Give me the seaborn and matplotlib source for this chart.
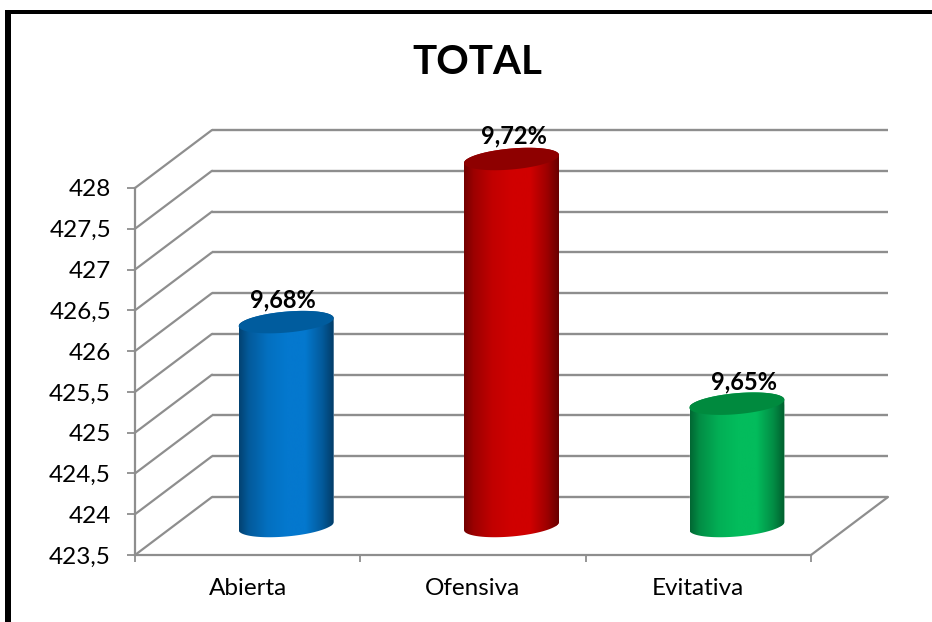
import matplotlib
matplotlib.use("Agg")
import matplotlib.pyplot as plt
import numpy as np
import pandas as pd
import seaborn as sns
from matplotlib.lines import Line2D
from matplotlib.patches import PathPatch, Rectangle
from matplotlib.path import Path
from matplotlib.transforms import Affine2D, IdentityTransform

# datos
categorias = ["Abierta", "Ofensiva", "Evitativa"]
valores = [426, 428, 425]
etiquetas = ["9,68%", "9,72%", "9,65%"]
colores = ["#0478CE", "#D00000", "#03BC5C"]
colores_tapa = ["#005C9E", "#8E0000", "#008A3E"]
y_ticks = [423.5, 424, 424.5, 425, 425.5, 426, 426.5, 427, 427.5, 428]
y_labels = ["423,5", "424", "424,5", "425", "425,5", "426", "426,5", "427", "427,5", "428"]

C_GRID = "#8E8E8E"
W, H = 932, 622
DX, DY = 77, 58  # profundidad de la caja 3D en pixeles

sns.set_theme(style="white")
plt.rcParams["font.family"] = ["Lato", "DejaVu Sans"]
plt.rcParams["text.color"] = "black"

fig = plt.figure(figsize=(W / 100, H / 100), dpi=100, facecolor="white")
ax = fig.add_axes([135 / W, (H - 555) / H, 676 / W, 367 / H])
ax.patch.set_alpha(0)

df = pd.DataFrame({"postura": categorias, "valor": valores})
sns.barplot(data=df, x="postura", y="valor", hue="postura", palette=colores,
            width=0.42, saturation=1, legend=False, ax=ax)
barras = list(ax.patches)

x0, x1 = -0.5, 2.5
ax.set_xlim(x0, x1)
ax.set_ylim(y_ticks[0], y_ticks[-1])

atras = ax.transData + Affine2D().translate(DX, DY)
medio = ax.transData + Affine2D().translate(DX / 2, DY / 2)
pix = IdentityTransform()

# paredes: lineas del fondo y de la pared lateral
for t in y_ticks:
    ax.plot([x0, x1], [t, t], transform=atras, color=C_GRID, lw=1.7, clip_on=False,
            zorder=1, solid_capstyle="butt")
    a = ax.transData.transform((x0, t))
    b = atras.transform((x0, t))
    ax.add_line(Line2D([a[0], b[0]], [a[1], b[1]], transform=pix, color=C_GRID, lw=1.6,
                       clip_on=False, zorder=1))
a = ax.transData.transform((x1, y_ticks[0]))
b = atras.transform((x1, y_ticks[0]))
ax.add_line(Line2D([a[0], b[0]], [a[1], b[1]], transform=pix, color=C_GRID, lw=1.6,
                   clip_on=False, zorder=1))


def elipse(cx, cy, t):
    # elipse inclinada: el lado derecho queda mas alto
    return np.column_stack([cx + 47.5 * np.cos(t), cy + 10.5 * np.sin(t) + 4 * np.cos(t)])


rampa = np.interp(np.linspace(0, 1, 256),
                  [0, 0.1, 0.3, 0.5, 0.7, 0.88, 1],
                  [0.55, 0.75, 0.93, 1.0, 1.0, 0.75, 0.5])

# cilindros a partir de las barras de seaborn
for i, bar in enumerate(barras):
    v = valores[i]
    bar.set_y(y_ticks[0])
    bar.set_height(v - y_ticks[0])
    bar.set_transform(medio)
    bar.set_zorder(3)

    cx, cy_top = medio.transform((bar.get_x() + bar.get_width() / 2, v))
    _, cy_base = medio.transform((0, y_ticks[0]))
    cuerpo = np.vstack([elipse(cx, cy_top, np.linspace(np.pi, 0, 60)),
                        elipse(cx, cy_base, np.linspace(0, -np.pi, 60))])
    silueta = Path(np.vstack([cuerpo, cuerpo[0]]), closed=True)

    bar.set_clip_box(fig.bbox)
    bar.set_clip_path(silueta, pix)

    rgb = np.array(matplotlib.colors.to_rgb(colores[i]))
    grad = (rampa[:, None] * rgb)[None, :, :]
    im = ax.imshow(grad, extent=(bar.get_x(), bar.get_x() + bar.get_width(), y_ticks[0] - 1, v + 1),
                   aspect="auto", interpolation="bilinear", transform=medio, zorder=4)
    im.set_clip_box(fig.bbox)
    im.set_clip_path(silueta, pix)

    tapa = elipse(cx, cy_top, np.linspace(0, 2 * np.pi, 120))
    ax.add_patch(PathPatch(Path(tapa, closed=True), transform=pix, facecolor=colores_tapa[i],
                           edgecolor="none", clip_on=False, zorder=5))

# etiquetas de datos
desplaz = [(-3, 22), (2, 23), (7, 22)]
for i in range(len(etiquetas)):
    ax.annotate(etiquetas[i], xy=(i, valores[i]), xycoords=medio, xytext=desplaz[i],
                textcoords="offset pixels", ha="center", va="center",
                fontsize=17, fontweight="bold", color="black", zorder=6)

ax.set_xlim(x0, x1)
ax.set_ylim(y_ticks[0], y_ticks[-1])

# ejes
ax.set_xlabel("")
ax.set_ylabel("")
ax.set_yticks(y_ticks)
ax.set_yticklabels(y_labels)
ax.set_xticks([-0.5, 0.5, 1.5, 2.5])
ax.set_xticklabels([])
ax.set_xticks([0, 1, 2], minor=True)
ax.set_xticklabels(categorias, minor=True)
ax.tick_params(axis="y", which="major", left=True, length=5.8, width=1.3, color=C_GRID,
               pad=11.5, labelsize=17.5, labelcolor="black")
ax.tick_params(axis="x", which="major", bottom=True, length=5, width=1.3, color=C_GRID)
ax.tick_params(axis="x", which="minor", bottom=False, length=0, pad=16.5, labelsize=17.5,
               labelcolor="black")
for lado in ["top", "right"]:
    ax.spines[lado].set_visible(False)
for lado in ["left", "bottom"]:
    ax.spines[lado].set_color(C_GRID)
    ax.spines[lado].set_linewidth(1.6)
    ax.spines[lado].set_zorder(2)

fig.suptitle("TOTAL", x=477 / W, y=1 - 63 / H, va="center", ha="center",
             fontsize=29, fontweight="bold")

# marco negro recortado del documento original
fig.add_artist(Rectangle((5 / W, 0), 5.5 / W, (H - 10) / H, transform=fig.transFigure,
                         facecolor="black", edgecolor="none"))
fig.add_artist(Rectangle((5 / W, (H - 13.5) / H), (W - 5) / W, 3.5 / H, transform=fig.transFigure,
                         facecolor="black", edgecolor="none"))

fig.savefig("out.png", dpi=100)
